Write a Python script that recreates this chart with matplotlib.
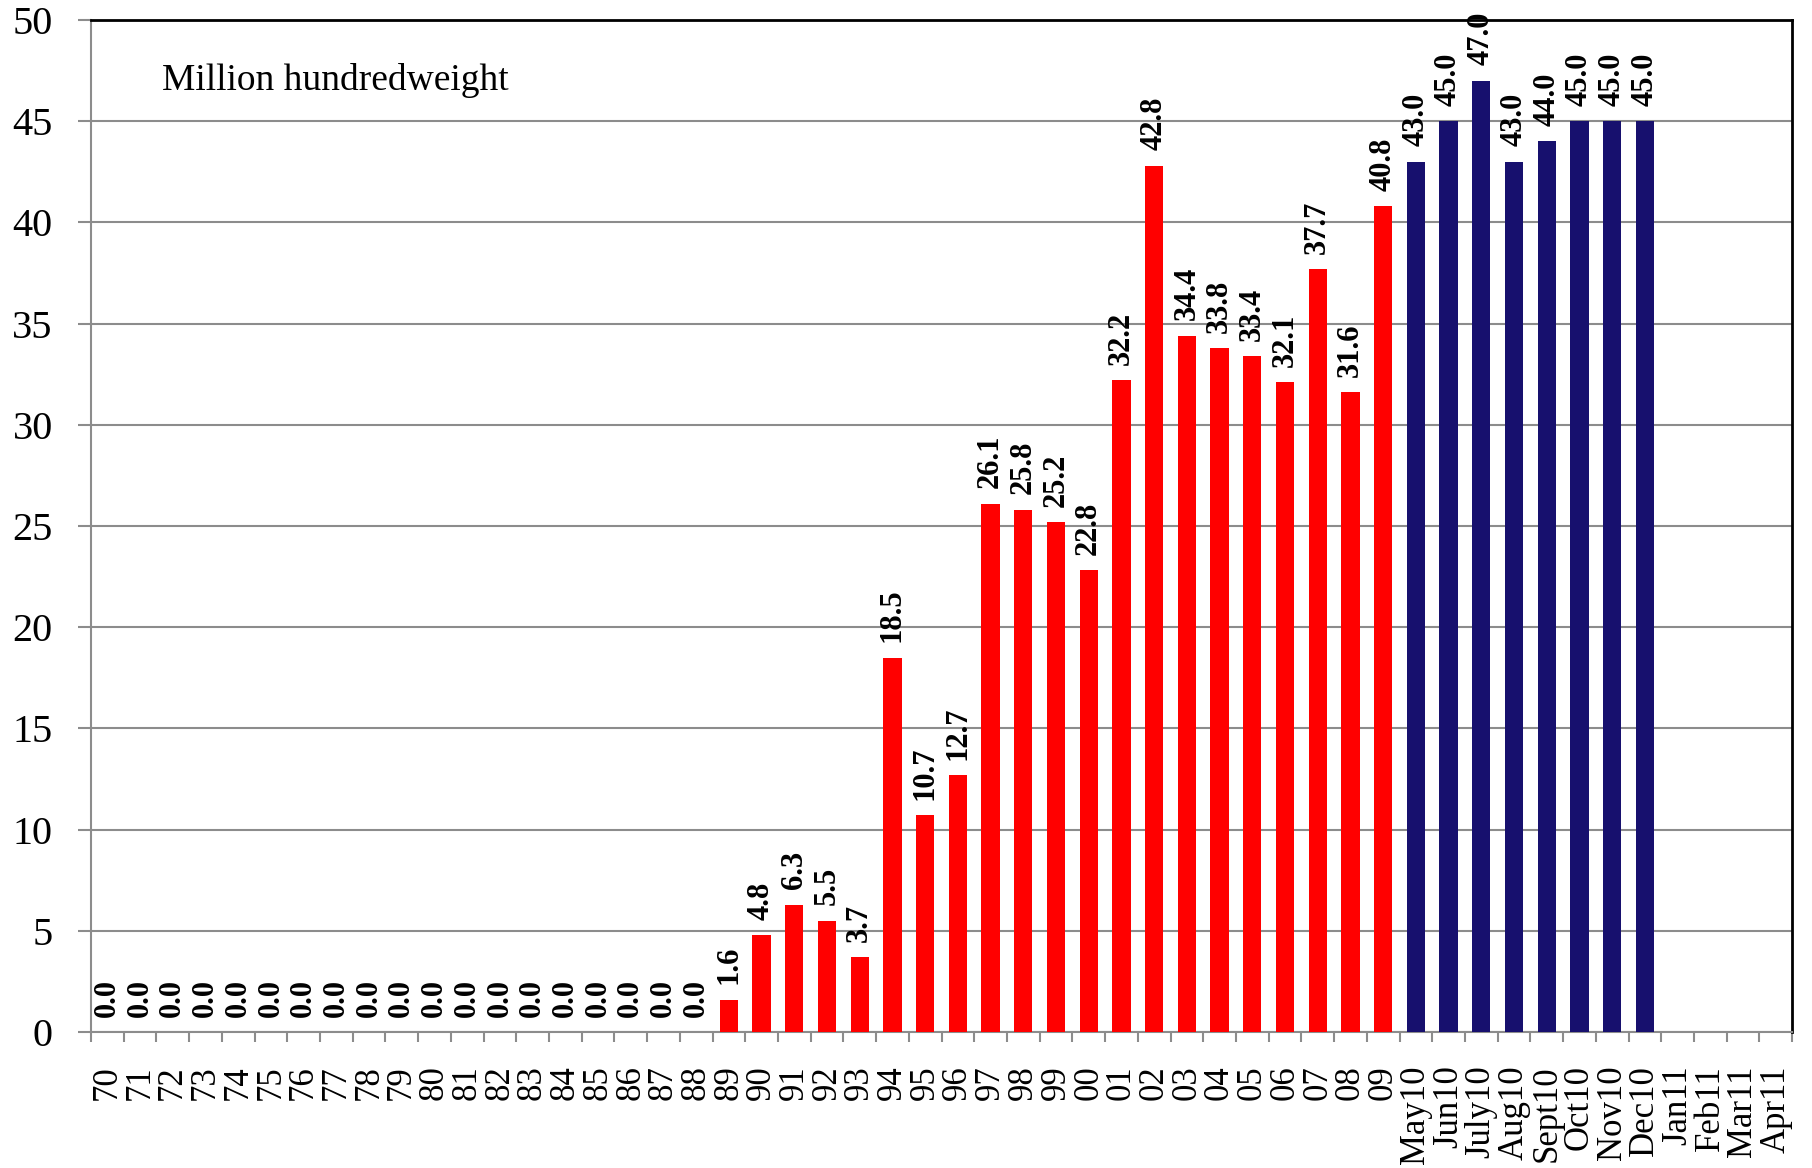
import matplotlib.pyplot as plt
import numpy as np

plt.rcParams['font.family'] = ['Liberation Serif', 'DejaVu Serif']

# 数据
years = ['70', '71', '72', '73', '74', '75', '76', '77', '78', '79',
         '80', '81', '82', '83', '84', '85', '86', '87', '88', '89',
         '90', '91', '92', '93', '94', '95', '96', '97', '98', '99',
         '00', '01', '02', '03', '04', '05', '06', '07', '08', '09']
year_values = [0.0] * 19 + [1.6, 4.8, 6.3, 5.5, 3.7, 18.5, 10.7, 12.7, 26.1, 25.8,
                            25.2, 22.8, 32.2, 42.8, 34.4, 33.8, 33.4, 32.1, 37.7, 31.6, 40.8]
months = ['May10', 'Jun10', 'July10', 'Aug10', 'Sept10', 'Oct10', 'Nov10', 'Dec10',
          'Jan11', 'Feb11', 'Mar11', 'Apr11']
month_values = [43.0, 45.0, 47.0, 43.0, 44.0, 45.0, 45.0, 45.0]

labels = years + months
n = len(labels)

fig = plt.figure(figsize=(18.12, 11.68), dpi=100)
ax = fig.add_axes([0.0502, 0.1164, 0.9388, 0.8666])

x_years = np.arange(len(years))
x_months = np.arange(len(years), len(years) + len(month_values))
bw = 0.56
b1 = ax.bar(x_years, year_values, width=bw, color='#ff0000', zorder=3)
b2 = ax.bar(x_months, month_values, width=bw, color='#17106e', zorder=3)

# 数值标签
for bars, vals in ((b1, year_values), (b2, month_values)):
    for rect, v in zip(bars, vals):
        ax.annotate(f'{v:.1f}', (rect.get_x() + rect.get_width() / 2, v),
                    xytext=(0, 11), textcoords='offset points',
                    rotation=90, ha='center', va='bottom',
                    fontsize=22, fontweight='bold', annotation_clip=False,
                    zorder=4)

ax.set_xlim(-0.5, n - 0.5)
ax.set_ylim(0, 50)
ax.set_yticks(np.arange(0, 51, 5))
ax.yaxis.grid(True, color='#8c8c8c', linewidth=1.5, zorder=0)

ax.set_xticks(np.arange(n))
ax.set_xticklabels(labels, rotation=90)
ax.set_xticks(np.arange(n + 1) - 0.5, minor=True)
ax.tick_params(axis='x', which='major', length=0, pad=24, labelsize=25)
ax.tick_params(axis='x', which='minor', length=7.5, width=1.5, color='#8c8c8c')
ax.tick_params(axis='y', length=9.5, width=1.5, color='#8c8c8c', pad=18, labelsize=29)

for side in ('left', 'bottom'):
    ax.spines[side].set_color('#8c8c8c')
    ax.spines[side].set_linewidth(1.5)
for side in ('top', 'right'):
    ax.spines[side].set_color('black')
    ax.spines[side].set_linewidth(2)

ax.text(0.042, 0.94, 'Million hundredweight', transform=ax.transAxes,
        fontsize=27, ha='left', va='center')

plt.savefig('out.png', dpi=100)
